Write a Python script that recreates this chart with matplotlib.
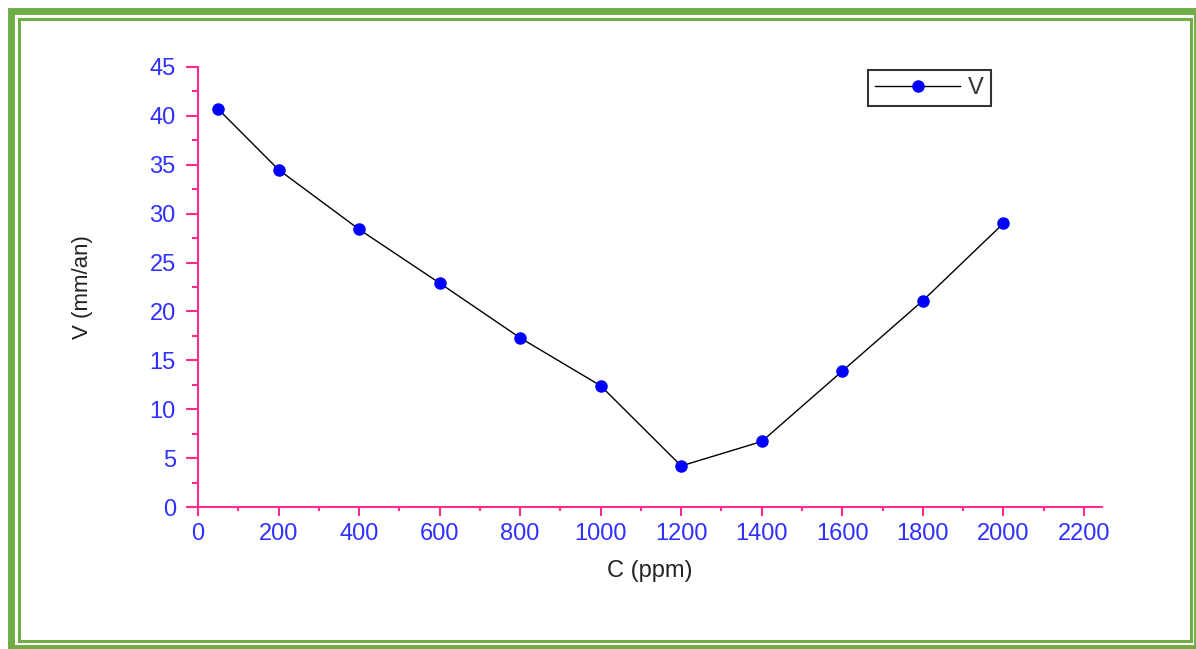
import matplotlib.pyplot as plt
from matplotlib.patches import Rectangle
from matplotlib.ticker import MultipleLocator

# data
conc = [50, 200, 400, 600, 800, 1000, 1200, 1400, 1600, 1800, 2000]
vitesse = [40.7, 34.5, 28.4, 22.9, 17.3, 12.4, 4.2, 6.7, 13.9, 21.1, 29.0]

plt.rcParams['font.family'] = ['Liberation Sans', 'DejaVu Sans']

W, H = 1196, 649
fig = plt.figure(figsize=(W / 100, H / 100), dpi=100)

pink = '#ff2d87'
blue = '#3030ff'
green = '#70ad47'

# green double frame
def frame(x0, y0, x1, y1, lw):
    fig.patches.append(Rectangle((x0 / W, 1 - y1 / H), (x1 - x0) / W, (y1 - y0) / H,
                                 transform=fig.transFigure, fill=False,
                                 edgecolor=green, linewidth=lw, zorder=0))

frame(10.5, 10.5, 1197, 648, 5.0)
frame(18.5, 18.5, 1190.5, 641, 2.2)

ax = fig.add_axes([198 / W, 1 - 507 / H, (1102 - 198) / W, (507 - 67) / H])
ax.plot(conc, vitesse, color='black', linewidth=1, marker='o', markersize=8,
        markerfacecolor='blue', markeredgecolor='blue', label='V')

ax.set_xlim(0, 2245)
ax.set_ylim(0, 45)
ax.xaxis.set_major_locator(MultipleLocator(200))
ax.xaxis.set_minor_locator(MultipleLocator(100))
ax.yaxis.set_major_locator(MultipleLocator(5))
ax.yaxis.set_minor_locator(MultipleLocator(2.5))

for s in ['top', 'right']:
    ax.spines[s].set_visible(False)
for s in ['left', 'bottom']:
    ax.spines[s].set_color(pink)
    ax.spines[s].set_linewidth(1.5)

ax.tick_params(axis='y', which='major', length=9, width=1.5, color=pink,
               labelcolor=blue, labelsize=17, pad=7)
ax.tick_params(axis='y', which='minor', length=4.5, width=1.5, color=pink)
ax.tick_params(axis='x', which='major', length=6.5, width=1.5, color=pink,
               labelcolor=blue, labelsize=17, pad=5)
ax.tick_params(axis='x', which='minor', length=3, width=1.5, color=pink)
ax.set_xticks(range(0, 2201, 200))

ax.set_xlabel('C (ppm)', fontsize=17, color='#222222', labelpad=11)
ax.set_ylabel('V (mm/an)', fontsize=16, color='#222222', labelpad=41)

leg = ax.legend(loc='upper left', bbox_to_anchor=(868 / W, 1 - 70 / H),
                bbox_transform=fig.transFigure, fontsize=17, frameon=True,
                fancybox=False, edgecolor='black', handlelength=3.6,
                borderpad=0.3, handletextpad=0.35, borderaxespad=0)
leg.get_frame().set_linewidth(1.5)
for t in leg.get_texts():
    t.set_color('#333333')

fig.savefig('out.png', dpi=100)
